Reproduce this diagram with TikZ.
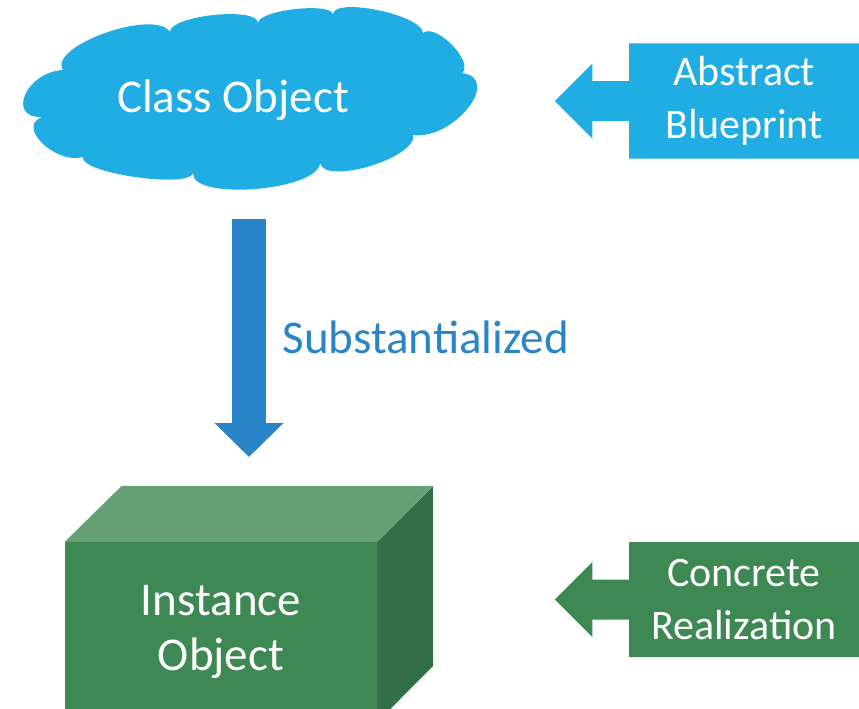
\documentclass[tikz,border=0pt]{standalone}
\usepackage{fontspec}
\setmainfont{Carlito}
\definecolor{classblue}{RGB}{31,173,227}
\definecolor{flowblue}{RGB}{42,132,200}
\definecolor{instgreen}{RGB}{62,137,83}
\definecolor{instgreentop}{RGB}{101,160,116}
\definecolor{instgreenside}{RGB}{51,110,68}
\usetikzlibrary{shapes,arrows.meta,positioning,calc}

\begin{document}
\begin{tikzpicture}[x=1pt, y=-1pt, every node/.style={font=\fontsize{47}{55}\selectfont}]
    \useasboundingbox (0,0) rectangle (859,709);
    \clip (0,0) rectangle (859,709);

    % class object cloud
    \fill[classblue] (63,70)
        .. controls (47.7,46) and (154.7,8) .. (170,32)
        .. controls (170,15.3) and (258,6.3) .. (258,23)
        .. controls (258.7,9.7) and (333.7,1.7) .. (333,15)
        .. controls (331.7,-3.7) and (421.7,14.3) .. (423,33)
        .. controls (435.7,22.3) and (474.7,62.3) .. (462,73)
        .. controls (502.7,78.3) and (453.7,140.3) .. (413,135)
        .. controls (417.7,157.7) and (324.7,185.7) .. (320,163)
        .. controls (318,191) and (191,201) .. (193,173)
        .. controls (189,189) and (79,173) .. (83,157)
        .. controls (55,165) and (15,125) .. (43,117)
        .. controls (5.7,119) and (25.7,72) .. (63,70) -- cycle;
    \node[text=white, anchor=base] (classobj) at (233,112) {Class Object};

    % side callouts
    \node[arrow box, arrow box arrows={west:74pt}, arrow box shaft width=40pt, arrow box head extend=17.5pt, fill=classblue, minimum width=230pt, minimum height=115pt, inner sep=0pt, text=white, align=center, font=\fontsize{42}{53}\selectfont] (abstract) at (744,101) {Abstract\\Blueprint};
    \node[arrow box, arrow box arrows={west:74pt}, arrow box shaft width=40pt, arrow box head extend=17.5pt, fill=instgreen, minimum width=230pt, minimum height=115pt, inner sep=0pt, text=white, align=center, font=\fontsize{42}{53}\selectfont] (concrete) at (744,599.5) {Concrete\\Realization};

    % instance object cube
    \node[fill=instgreen, minimum width=312pt, minimum height=180pt, inner sep=0pt, text=white, align=center] (instobj) at (221,632) {Instance\\Object};
    \fill[instgreentop] (instobj.north west) -- ++(57,-56) -- ++(311,0) -- (instobj.north east) -- cycle;
    \fill[instgreenside] (instobj.north east) -- ++(56,-56) -- ++(0,180) -- (instobj.south east) -- cycle;

    % substantialized arrow
    \coordinate (flowtop) at (249,219);
    \coordinate (flowtip) at (249,457);
    \draw[flowblue, line width=34pt, -{Triangle[width=67pt,length=34pt]}] (flowtop) -- (flowtip);
    \node[text=flowblue, anchor=base west] (substlbl) at (279,353) {Substantialized};
\end{tikzpicture}
\end{document}
